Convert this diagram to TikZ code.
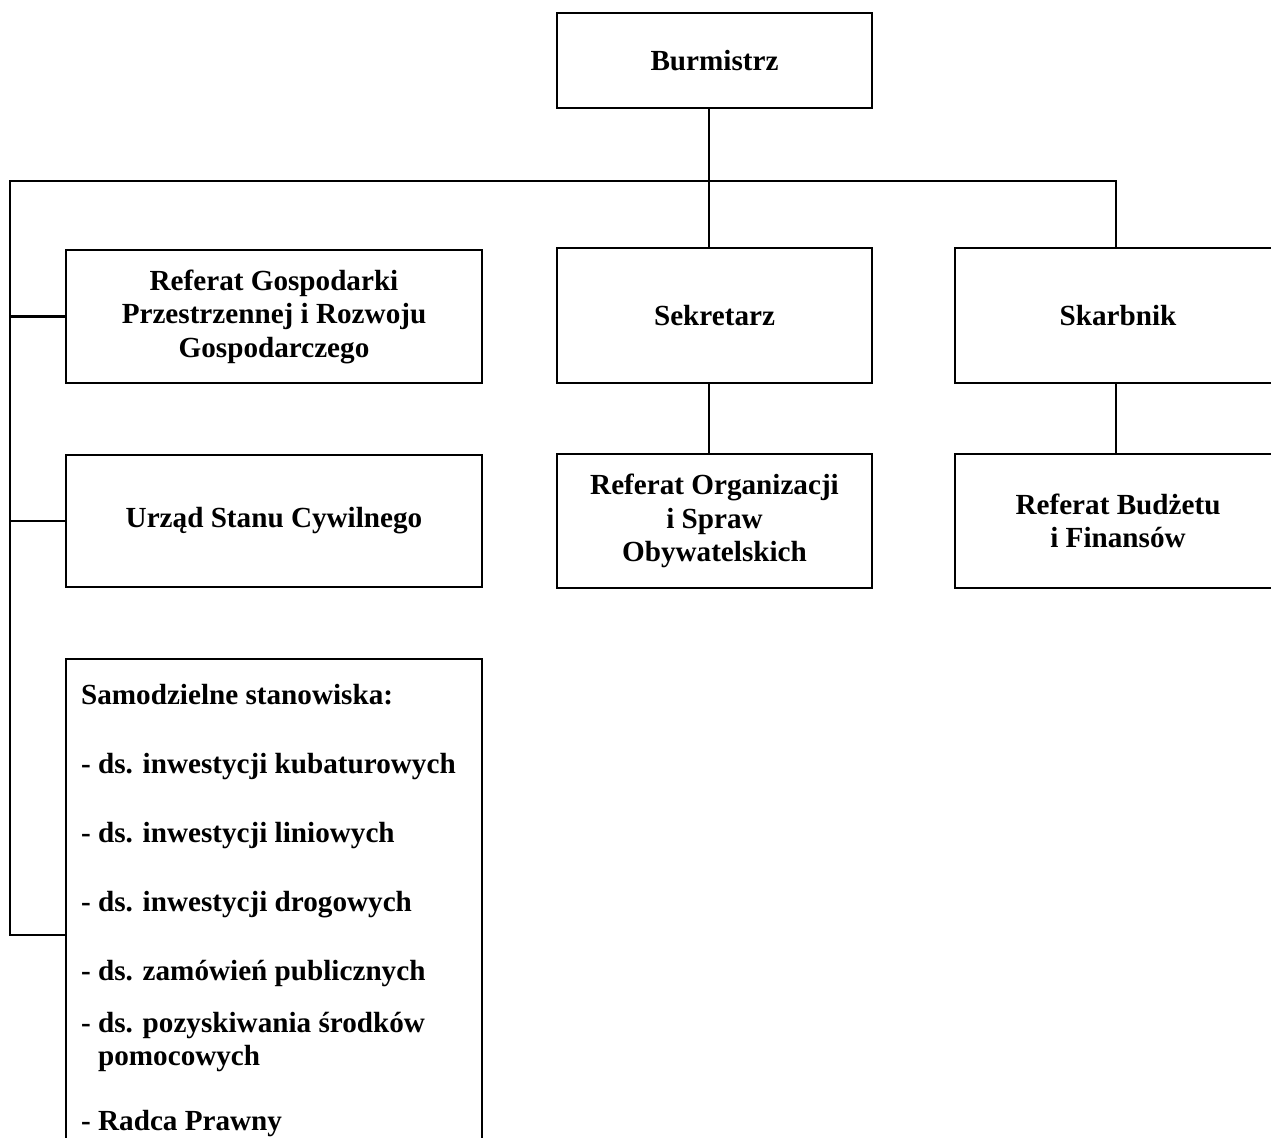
\documentclass[tikz,border=0pt]{standalone}
\usepackage{fontspec}
\setmainfont{Liberation Serif}
\begin{document}
\begin{tikzpicture}[
    x=0.02cm,
    y=-0.02cm,
    line width=1.3pt,
    unit/.style={draw, line width=1.3pt, align=center, inner sep=2pt,
      font=\fontsize{16.6}{19.1}\selectfont\bfseries},
    leftunit/.style={unit, minimum width=8.32cm, minimum height=2.66cm},
    midunit/.style={unit, minimum width=6.3cm, minimum height=2.7cm},
    rightunit/.style={unit, minimum width=6.52cm, minimum height=2.7cm},
    post/.style={anchor=base west, inner sep=0pt,
      font=\fontsize{16.6}{19.1}\selectfont\bfseries}
]
\useasboundingbox (0,0) rectangle (1271,1137);
\clip (0,0) rectangle (1271,1137);

% top
\node[midunit, minimum height=1.9cm] (burm) at (714.5,60.5) {Burmistrz};

% left column
\node[leftunit] (gosp) at (274,316.5) {Referat Gospodarki\\Przestrzennej i Rozwoju\\Gospodarczego};
\node[leftunit, minimum height=2.64cm] (usc) at (274,521) {\raisebox{-2pt}{Urząd Stanu Cywilnego}};
\node[leftunit, anchor=north, minimum height=11cm] (samodz) at (274,658) {};

% middle and right columns
\node[midunit] (sek) at (714.5,315.5) {\raisebox{-2pt}{Sekretarz}};
\node[midunit, minimum height=2.68cm] (refo) at (714.5,521) {Referat Organizacji\\i Spraw\\Obywatelskich};
\node[rightunit] (skarb) at (1118,315.5) {\raisebox{-2pt}{Skarbnik}};
\node[rightunit, minimum height=2.68cm] (refb) at (1118,521) {Referat Budżetu\\i Finansów};

% stanowiska
\foreach \y/\lab [count=\i] in {
    704/{Samodzielne stanowiska:},
    773/{- ds. inwestycji kubaturowych},
    842/{- ds. inwestycji liniowych},
    911/{- ds. inwestycji drogowych},
    980/{- ds. zamówień publicznych},
    1032/{- ds. pozyskiwania środków},
    1065/{\hphantom{- }pomocowych},
    1130/{- Radca Prawny}
  }{
    \node[post] (pos\i) at (80,\y) {\lab};
  }

% connectors
\coordinate (busL) at (10,181);
\coordinate (busR) at (1116,181);
\coordinate (busM) at (709,181);
\coordinate (tapS) at (10,935);
\draw (busM |- burm.south) -- (busM |- sek.north);
\draw (busR |- skarb.north) -- (busR) -- (busL) -- (tapS) -- (tapS -| samodz.west);
\draw (busL |- gosp.west) -- (gosp.west);
\draw (busL |- usc.west) -- (usc.west);
\draw (busM |- sek.south) -- (busM |- refo.north);
\draw (busR |- skarb.south) -- (busR |- refb.north);
\end{tikzpicture}
\end{document}
